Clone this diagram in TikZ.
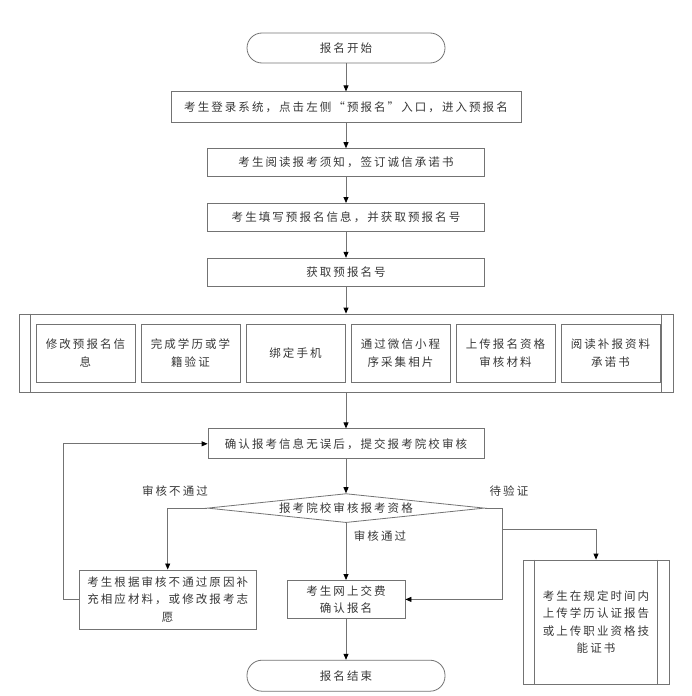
\documentclass[tikz,border=0pt]{standalone}
\usepackage{fontspec}
\setmainfont{Noto Sans CJK SC}[LetterSpace=18]
\usetikzlibrary{arrows.meta, positioning, shapes.geometric}
\definecolor{cLine}{RGB}{115,115,115}
\definecolor{cText}{RGB}{55,55,55}

\begin{document}
\begin{tikzpicture}[x=1pt, y=1pt,
      node distance=26pt,
      every node/.style={font=\fontsize{11.5pt}{17.5pt}\selectfont, text=cText},
      box/.style={draw=cLine, line width=0.8pt, minimum width=277pt,
                  minimum height=28pt, inner sep=0pt, align=center},
      term/.style={box, minimum width=198pt, minimum height=30pt, rounded corners=15pt},
      sub/.style={box, minimum width=99pt, minimum height=58pt},
      dec/.style={diamond, draw=cLine, line width=0.8pt, aspect=9.5,
                  minimum width=277pt, minimum height=29pt, inner sep=0pt},
      lbl/.style={inner sep=0pt},
      conn/.style={draw=cLine, line width=0.8pt},
      >={Triangle[length=6pt, width=5pt, color=black]}]
    \useasboundingbox (0,0) rectangle (692,-696);
    \node[term] (start) at (346,-48) {报名开始};
    \node[box, minimum width=350pt, minimum height=31pt, below=28pt of start] (login)
        {考生登录系统，点击左侧“预报名”入口，进入预报名};
    \node[box, below=25pt of login] (notice) {考生阅读报考须知，签订诚信承诺书};
    \node[box, below=of notice] (fill) {考生填写预报名信息，并获取预报名号};
    \node[box, below=of fill]   (pre)  {获取预报名号};
    \node[box, minimum width=654pt, minimum height=78pt, below=27pt of pre] (grp) {};
    \draw[conn] ([xshift=12pt]grp.north west) -- ([xshift=12pt]grp.south west);
    \draw[conn] ([xshift=-12pt]grp.north east) -- ([xshift=-12pt]grp.south east);
    \node[sub, anchor=west] (s1) at ([xshift=17pt]grp.west) {修改预报名信\\息};
    \node[sub, right=5.2pt of s1] (s2) {完成学历或学\\籍验证};
    \node[sub, right=5.2pt of s2] (s3) {绑定手机};
    \node[sub, right=5.2pt of s3] (s4) {通过微信小程\\序采集相片};
    \node[sub, right=5.2pt of s4] (s5) {上传报名资格\\审核材料};
    \node[sub, right=5.2pt of s5] (s6) {阅读补报资料\\承诺书};
    \node[box, minimum width=276pt, minimum height=30pt, below=36pt of grp] (confirm)
        {确认报考信息无误后，提交报考院校审核};
    \node[dec, below=34pt of confirm] (dia) {报考院校审核报考资格};
    \node[box, minimum width=118pt, minimum height=38pt, below=57pt of dia] (pay)
        {考生网上交费\\确认报名};
    \node[term, minimum height=31pt, below=41pt of pay] (finish) {报名结束};
    \node[box, minimum width=177pt, minimum height=59pt, left=30pt of pay] (fix)
        {考生根据审核不通过原因补\\充相应材料，或修改报考志\\愿};
    \node[box, minimum width=146pt, minimum height=124pt] (wait) at (596,-622)
        {考生在规定时间内\\上传学历认证报告\\或上传职业资格技\\能证书};
    \draw[conn] ([xshift=12pt]wait.north west) -- ([xshift=12pt]wait.south west);
    \draw[conn] ([xshift=-12pt]wait.north east) -- ([xshift=-12pt]wait.south east);
    \coordinate (split) at ([xshift=17pt, yshift=-21pt]dia.east);
    \node[lbl] (nopass) at (175,-491) {审核不通过};
    \node[lbl] (check)  at (509,-491) {待验证};
    \node[lbl] (pass)   at (380,-536) {审核通过};
    \draw[conn, ->] (start)   -- (login);
    \draw[conn, ->] (login)   -- (notice);
    \draw[conn, ->] (notice)  -- (fill);
    \draw[conn, ->] (fill)    -- (pre);
    \draw[conn, ->] (pre)     -- (grp);
    \draw[conn, ->] (grp)     -- (confirm);
    \draw[conn, ->] (confirm) -- (dia);
    \draw[conn, ->] (dia)     -- (pay);
    \draw[conn, ->] (pay)     -- (finish);
    \draw[conn, ->] (dia.west) -| (fix.north);
    \draw[conn, ->] (fix.west) -- ++(-15pt,0) |- (confirm.west);
    \draw[conn, ->] (dia.east) -- ++(17pt,0) |- (pay.east);
    \draw[conn, ->] (split) -| (wait.north);
  \end{tikzpicture}
\end{document}
